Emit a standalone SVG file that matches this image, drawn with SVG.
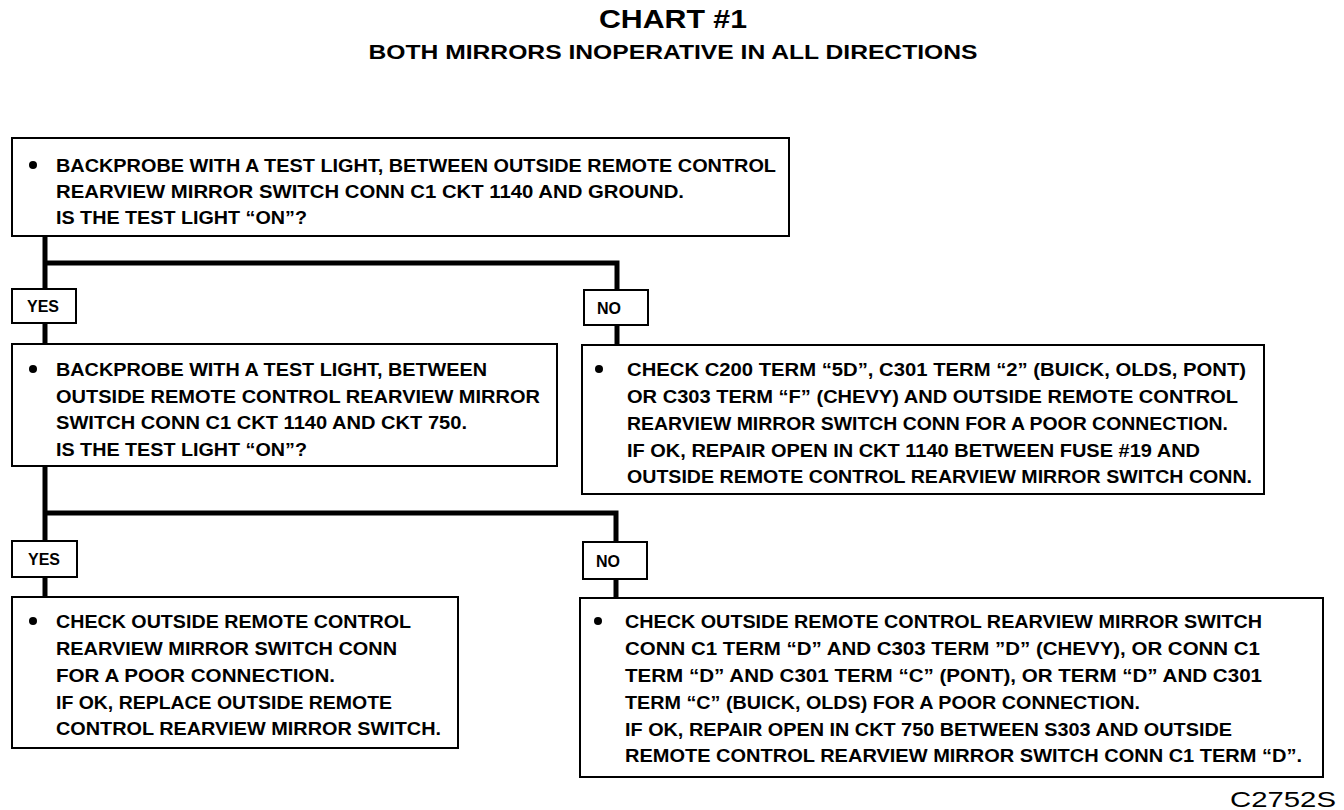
<svg xmlns="http://www.w3.org/2000/svg" width="1344" height="810" viewBox="0 0 1344 810">
<style>
.box{fill:#fff;stroke:#000;stroke-width:2}
.lbl{fill:#fff;stroke:#000;stroke-width:2}
.t{font-family:"Liberation Sans",Arial,sans-serif;font-weight:bold;font-size:18px;fill:#000}
.l{font-family:"Liberation Sans",Arial,sans-serif;font-weight:bold;font-size:16px;fill:#000}
.c{fill:none;stroke:#000;stroke-width:5}
</style>
<rect width="1344" height="810" fill="#fff"/>
<g id="title">
<text x="673" y="28" text-anchor="middle" font-family="Liberation Sans,Arial,sans-serif" font-weight="bold" font-size="26" textLength="148" lengthAdjust="spacingAndGlyphs">CHART #1</text>
<text x="673" y="59" text-anchor="middle" font-family="Liberation Sans,Arial,sans-serif" font-weight="bold" font-size="20" textLength="609" lengthAdjust="spacingAndGlyphs">BOTH MIRRORS INOPERATIVE IN ALL DIRECTIONS</text>
</g>
<g id="connectors">
<polyline class="c" points="45,237 45,289"/>
<polyline class="c" points="45,263 617,263 617,290"/>
<line class="c" x1="45" y1="323" x2="45" y2="343"/>
<line class="c" x1="617" y1="325" x2="617" y2="345"/>
<polyline class="c" points="45,466 45,541"/>
<polyline class="c" points="45,513 616,513 616,542"/>
<line class="c" x1="45" y1="577" x2="45" y2="597"/>
<line class="c" x1="616" y1="579" x2="616" y2="598"/>
</g>
<g id="n1">
<rect class="box" x="12" y="138" width="777" height="98"/>
<circle cx="33" cy="165" r="4"/>
<text class="t" x="56" y="172" textLength="720" lengthAdjust="spacingAndGlyphs">BACKPROBE WITH A TEST LIGHT, BETWEEN OUTSIDE REMOTE CONTROL</text>
<text class="t" x="56" y="198" textLength="628" lengthAdjust="spacingAndGlyphs">REARVIEW MIRROR SWITCH CONN C1 CKT 1140 AND GROUND.</text>
<text class="t" x="56" y="224" textLength="251" lengthAdjust="spacingAndGlyphs">IS THE TEST LIGHT “ON”?</text>
</g>
<g id="yes1">
<rect class="lbl" x="12" y="289" width="64" height="34"/>
<text class="l" x="43" y="312" text-anchor="middle">YES</text>
</g>
<g id="no1">
<rect class="lbl" x="584" y="290" width="64" height="35"/>
<text class="l" x="609" y="314" text-anchor="middle">NO</text>
</g>
<g id="n2">
<rect class="box" x="12" y="344" width="545" height="122"/>
<circle cx="33" cy="369" r="4"/>
<text class="t" x="56" y="376" textLength="431" lengthAdjust="spacingAndGlyphs">BACKPROBE WITH A TEST LIGHT, BETWEEN</text>
<text class="t" x="56" y="403" textLength="484" lengthAdjust="spacingAndGlyphs">OUTSIDE REMOTE CONTROL REARVIEW MIRROR</text>
<text class="t" x="56" y="429" textLength="411" lengthAdjust="spacingAndGlyphs">SWITCH CONN C1 CKT 1140 AND CKT 750.</text>
<text class="t" x="56" y="456" textLength="251" lengthAdjust="spacingAndGlyphs">IS THE TEST LIGHT “ON”?</text>
</g>
<g id="n3">
<rect class="box" x="582" y="345" width="682" height="149"/>
<circle cx="599" cy="369" r="4"/>
<text class="t" x="627" y="376" textLength="619" lengthAdjust="spacingAndGlyphs">CHECK C200 TERM “5D”, C301 TERM “2” (BUICK, OLDS, PONT)</text>
<text class="t" x="627" y="403" textLength="611" lengthAdjust="spacingAndGlyphs">OR C303 TERM “F” (CHEVY) AND OUTSIDE REMOTE CONTROL</text>
<text class="t" x="627" y="430" textLength="601" lengthAdjust="spacingAndGlyphs">REARVIEW MIRROR SWITCH CONN FOR A POOR CONNECTION.</text>
<text class="t" x="627" y="457" textLength="573" lengthAdjust="spacingAndGlyphs">IF OK, REPAIR OPEN IN CKT 1140 BETWEEN FUSE #19 AND</text>
<text class="t" x="627" y="483" textLength="625" lengthAdjust="spacingAndGlyphs">OUTSIDE REMOTE CONTROL REARVIEW MIRROR SWITCH CONN.</text>
</g>
<g id="yes2">
<rect class="lbl" x="12" y="541" width="65" height="36"/>
<text class="l" x="44" y="565" text-anchor="middle">YES</text>
</g>
<g id="no2">
<rect class="lbl" x="583" y="542" width="64" height="37"/>
<text class="l" x="608" y="567" text-anchor="middle">NO</text>
</g>
<g id="n4">
<rect class="box" x="12" y="597" width="446" height="151"/>
<circle cx="33" cy="621" r="4"/>
<text class="t" x="56" y="628" textLength="355" lengthAdjust="spacingAndGlyphs">CHECK OUTSIDE REMOTE CONTROL</text>
<text class="t" x="56" y="655" textLength="341" lengthAdjust="spacingAndGlyphs">REARVIEW MIRROR SWITCH CONN</text>
<text class="t" x="56" y="682" textLength="279" lengthAdjust="spacingAndGlyphs">FOR A POOR CONNECTION.</text>
<text class="t" x="56" y="709" textLength="336" lengthAdjust="spacingAndGlyphs">IF OK, REPLACE OUTSIDE REMOTE</text>
<text class="t" x="56" y="735" textLength="385" lengthAdjust="spacingAndGlyphs">CONTROL REARVIEW MIRROR SWITCH.</text>
</g>
<g id="n5">
<rect class="box" x="580" y="598" width="743" height="179"/>
<circle cx="598" cy="621" r="4"/>
<text class="t" x="625" y="628" textLength="637" lengthAdjust="spacingAndGlyphs">CHECK OUTSIDE REMOTE CONTROL REARVIEW MIRROR SWITCH</text>
<text class="t" x="625" y="655" textLength="635" lengthAdjust="spacingAndGlyphs">CONN C1 TERM “D” AND C303 TERM ”D” (CHEVY), OR CONN C1</text>
<text class="t" x="625" y="682" textLength="637" lengthAdjust="spacingAndGlyphs">TERM “D” AND C301 TERM “C” (PONT), OR TERM “D” AND C301</text>
<text class="t" x="625" y="709" textLength="515" lengthAdjust="spacingAndGlyphs">TERM “C” (BUICK, OLDS) FOR A POOR CONNECTION.</text>
<text class="t" x="625" y="736" textLength="607" lengthAdjust="spacingAndGlyphs">IF OK, REPAIR OPEN IN CKT 750 BETWEEN S303 AND OUTSIDE</text>
<text class="t" x="625" y="762" textLength="677" lengthAdjust="spacingAndGlyphs">REMOTE CONTROL REARVIEW MIRROR SWITCH CONN C1 TERM “D”.</text>
</g>
<g id="code">
<text x="1230" y="807" font-family="Liberation Sans,Arial,sans-serif" font-size="22" textLength="106" lengthAdjust="spacingAndGlyphs">C2752S</text>
</g>
</svg>
